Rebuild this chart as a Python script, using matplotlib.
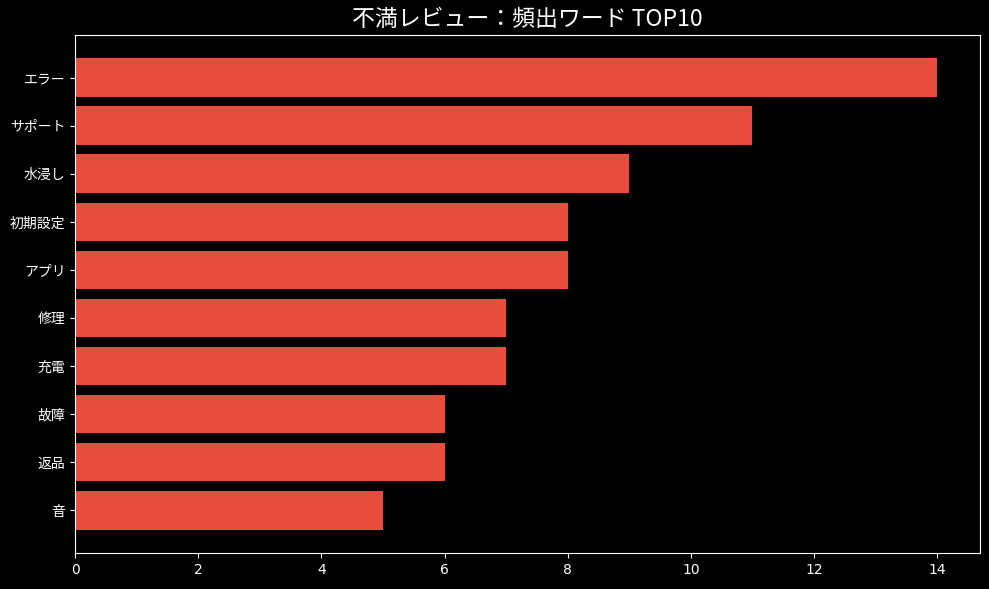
import matplotlib
matplotlib.use('Agg')
import matplotlib.pyplot as plt

words = ['エラー', 'サポート', '水浸し', '初期設定', 'アプリ', '修理', '充電', '故障', '返品', '音']
counts = [14, 11, 9, 8, 8, 7, 7, 6, 6, 5]

plt.style.use('dark_background')
plt.rcParams['font.family'] = ['Noto Sans CJK JP', 'DejaVu Sans']

fig, ax = plt.subplots(figsize=(9.89, 5.89), dpi=100)
fig.subplots_adjust(left=0.076, right=0.991, top=0.941, bottom=0.061)

ax.barh(words[::-1], counts[::-1], color='#e74c3c')
ax.set_title('不満レビュー：頻出ワード TOP10', fontsize=16.5)

for lbl in ax.get_xticklabels():
    lbl.set_fontfamily('DejaVu Sans')

fig.savefig('out.png', dpi=100)
